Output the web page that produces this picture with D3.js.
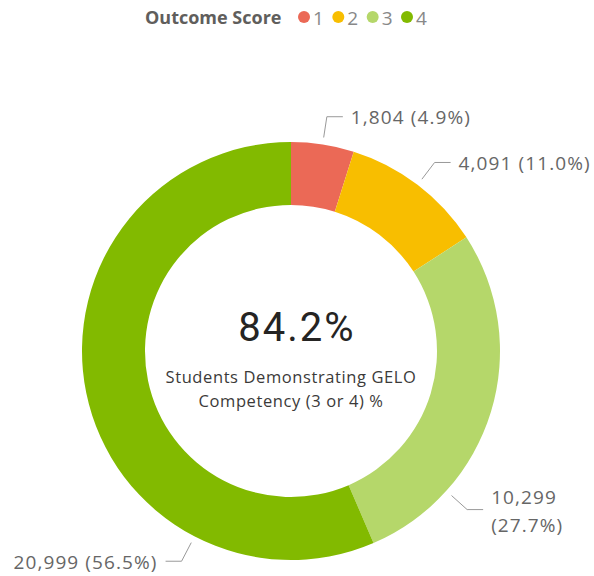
<!DOCTYPE html>
<html>
<head>
<meta charset="utf-8">
<script src="https://cdn.jsdelivr.net/npm/d3@7"></script>
<style>
  body { margin: 0; background: #fff; }
  svg { display: block; font-family: "Segoe UI", "Open Sans", sans-serif; }
</style>
</head>
<body>
<div class="chart"></div>
<script>
// data
var scores = ["1", "2", "3", "4"];
var counts = [1804, 4091, 10299, 20999];
var percentLabels = ["4.9%", "11.0%", "27.7%", "56.5%"];
var centerValue = "84.2%";
var centerCaption = ["Students Demonstrating GELO", "Competency (3 or 4) %"];
var legendTitle = "Outcome Score";

// layout
var width = 594, height = 576;
var cx = 291, cy = 351, outerR = 209, innerR = 146;
// where the leader line leaves each slice, degrees clockwise from top
var labelAngles = [8.7, 37.3, 132, 207.5];
var colors = ["#EB6956", "#F8BE00", "#B5D76A", "#82BA00"];

var svg = d3.select(".chart").append("svg")
    .attr("width", width)
    .attr("height", height);

// legend
var legend = svg.append("g").attr("class", "legend");
legend.append("text")
    .attr("x", 145).attr("y", 18)
    .attr("dy", "0.35em")
    .style("font-size", "18px")
    .style("font-weight", "bold")
    .style("fill", "#605E5C")
    .text(legendTitle);

var legendX = d3.scalePoint().domain(scores).range([304, 407]);
var items = legend.selectAll(".item")
    .data(scores)
  .enter().append("g")
    .attr("class", "item")
    .attr("transform", function(d) { return "translate(" + legendX(d) + ",17)"; });
items.append("circle")
    .attr("r", 6)
    .style("fill", function(d, i) { return colors[i]; });
items.append("text")
    .attr("x", 9).attr("y", 1)
    .attr("dy", "0.35em")
    .style("font-size", "19px")
    .style("fill", "#888")
    .text(function(d) { return d; });

// donut
var pie = d3.pie().sort(null).value(function(d) { return d; });
var arcs = pie(counts);
var arc = d3.arc().innerRadius(innerR).outerRadius(outerR);

var g = svg.append("g").attr("transform", "translate(" + cx + "," + cy + ")");
g.selectAll("path.slice")
    .data(arcs)
  .enter().append("path")
    .attr("class", "slice")
    .attr("d", arc)
    .style("fill", function(d, i) { return colors[i]; });

// leader lines and labels
function polar(r, deg) {
    var a = deg * Math.PI / 180;
    return [r * Math.sin(a), -r * Math.cos(a)];
}
var fmt = d3.format(",");
arcs.forEach(function(d, i) {
    var ang = labelAngles[i];
    var right = ang < 180 ? 1 : -1;
    var p0 = polar(outerR + 7, ang),
        p1 = polar(outerR + 28, ang),
        p2 = [p1[0] + right * 16, p1[1]];
    g.append("polyline")
        .attr("points", [p0, p1, p2].map(function(p) { return p.join(","); }).join(" "))
        .style("fill", "none")
        .style("stroke", "#999")
        .style("stroke-width", 1);
    var lines = [fmt(counts[i]) + " (" + percentLabels[i] + ")"];
    if (i == 2) lines = [fmt(counts[i]), "(" + percentLabels[i] + ")"];
    var t = g.append("text")
        .attr("x", p2[0] + right * 8)
        .attr("y", p2[1] + (lines.length > 1 ? -12 : 1))
        .attr("text-anchor", right > 0 ? "start" : "end")
        .style("font-size", "19px")
        .style("letter-spacing", "1.1px")
        .style("fill", "#666");
    lines.forEach(function(l, j) {
        t.append("tspan")
            .attr("x", p2[0] + right * 8)
            .attr("dy", j == 0 ? "0.35em" : "28px")
            .text(l);
    });
});

// center text
g.append("text")
    .attr("x", 6)
    .attr("y", -24)
    .attr("dy", "0.35em")
    .attr("text-anchor", "middle")
    .style("font-family", "Roboto, sans-serif")
    .style("font-size", "40px")
    .style("letter-spacing", "2px")
    .style("fill", "#252423")
    .text(centerValue);
var cap = g.append("text")
    .attr("text-anchor", "middle")
    .style("font-size", "16.5px")
    .style("letter-spacing", "0.6px")
    .style("fill", "#3b3a39");
centerCaption.forEach(function(l, j) {
    cap.append("tspan")
        .attr("x", 0)
        .attr("y", 26 + j * 24)
        .attr("dy", "0.35em")
        .text(l);
});
</script>
</body>
</html>
